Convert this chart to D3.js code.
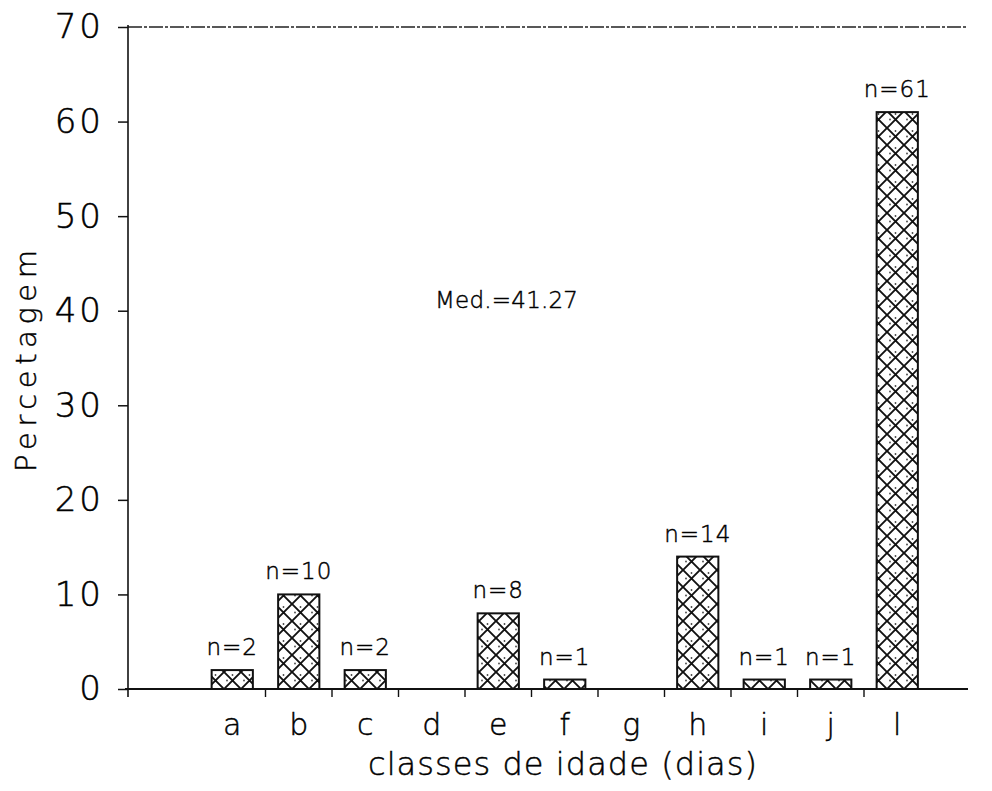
<!DOCTYPE html>
<html>
<head>
<meta charset="utf-8">
<script src="https://cdn.jsdelivr.net/npm/d3@7"></script>
<style>
  html, body { margin: 0; padding: 0; background: #fff; }
  svg { display: block; }
  text { font-family: "DejaVu Sans", "Noto Sans", sans-serif; font-weight: 200; fill: #000; stroke: #000; stroke-width: 0.45px; }
</style>
</head>
<body>
<svg id="chart" width="992" height="791"></svg>
<script>
// ---- data ----
const categories = ["a", "b", "c", "d", "e", "f", "g", "h", "i", "j", "l"];
const percentages = [2, 10, 2, 0, 8, 1, 0, 14, 1, 1, 61];
const counts = [2, 10, 2, null, 8, 1, null, 14, 1, 1, 61];
const yTicks = [0, 10, 20, 30, 40, 50, 60, 70];
const medianLabel = "Med.=41.27";
const xTitle = "classes de idade (dias)";
const yTitle = "Percetagem";

// ---- layout ----
const plotLeft = 128, plotRight = 968, plotTop = 27, plotBottom = 689;

const svg = d3.select("#chart");

const y = d3.scaleLinear().domain([0, 70]).range([plotBottom, plotTop]);
const x = d3.scaleBand().domain(categories).range([199, 930.5]).paddingInner(0).paddingOuter(0);
const barW = x.bandwidth() * 0.62;

// hatch pattern
const P = 17;
const defs = svg.append("defs");
const pat = defs.append("pattern")
  .attr("id", "hatch").attr("patternUnits", "userSpaceOnUse")
  .attr("x", 3).attr("y", plotBottom)
  .attr("width", P).attr("height", P);
pat.append("rect").attr("width", P).attr("height", P).attr("fill", "#fff");
pat.append("path").attr("d", `M0,0 L${P},${P} M${P},0 L0,${P} M-1,${P-1} L1,${P+1} M${P-1},-1 L${P+1},1`)
  .attr("stroke", "#111").attr("stroke-width", 1.9).attr("fill", "none");
pat.append("circle").attr("cx", P / 2).attr("cy", 3).attr("r", 0.9).attr("fill", "#444");
pat.append("circle").attr("cx", 3).attr("cy", P / 2).attr("r", 0.9).attr("fill", "#444");

// top frame line
svg.append("line").attr("x1", plotLeft).attr("x2", plotRight).attr("y1", plotTop).attr("y2", plotTop)
  .attr("stroke", "#222").attr("stroke-width", 1.3).attr("stroke-dasharray", "14,2,3,2");

// bars
const data = categories.map((c, i) => ({ c, v: percentages[i], n: counts[i] }));
svg.selectAll("rect.bar").data(data.filter(d => d.v > 0)).join("rect")
  .attr("class", "bar")
  .attr("x", d => x(d.c) + (x.bandwidth() - barW) / 2)
  .attr("y", d => y(d.v))
  .attr("width", barW)
  .attr("height", d => y(0) - y(d.v))
  .attr("fill", "url(#hatch)")
  .attr("stroke", "#111").attr("stroke-width", 2);

// n labels
svg.selectAll("text.nlab").data(data.filter(d => d.n !== null)).join("text")
  .attr("class", "nlab")
  .attr("x", d => x(d.c) + x.bandwidth() / 2)
  .attr("y", d => y(d.v) - 15)
  .attr("text-anchor", "middle")
  .attr("font-size", 23)
  .attr("letter-spacing", 1)
  .text(d => "n=" + d.n);

// y axis
const yAxis = d3.axisLeft(y).tickValues(yTicks).tickSize(10).tickPadding(14).tickFormat(d3.format("d"));
const gy = svg.append("g").attr("transform", `translate(${plotLeft},0)`).call(yAxis);
gy.select(".domain").remove();
gy.selectAll(".tick line").attr("stroke", "#111").attr("stroke-width", 1.5);
gy.selectAll(".tick text").attr("font-size", 34).attr("letter-spacing", 3)
  .style("font-family", "'DejaVu Sans', sans-serif").style("font-weight", 200)
  .attr("fill", "#000").style("stroke", "#000").style("stroke-width", "0.5px");
svg.append("line").attr("x1", plotLeft).attr("x2", plotLeft).attr("y1", plotTop - 2).attr("y2", plotBottom + 8)
  .attr("stroke", "#111").attr("stroke-width", 1.6);

// x axis
svg.append("line").attr("x1", plotLeft - 3).attr("x2", plotRight).attr("y1", plotBottom).attr("y2", plotBottom)
  .attr("stroke", "#111").attr("stroke-width", 2);
svg.selectAll("line.xtick").data(categories.slice(1)).join("line")
  .attr("class", "xtick")
  .attr("x1", d => x(d)).attr("x2", d => x(d))
  .attr("y1", plotBottom).attr("y2", plotBottom + 8)
  .attr("stroke", "#111").attr("stroke-width", 1.4);
svg.selectAll("text.xlab").data(categories).join("text")
  .attr("class", "xlab")
  .attr("x", d => x(d) + x.bandwidth() / 2)
  .attr("y", 735)
  .attr("text-anchor", "middle")
  .attr("font-size", 30)
  .text(d => d);

// titles
svg.append("text").attr("x", 368).attr("y", 775)
  .attr("font-size", 32).attr("textLength", 389).attr("lengthAdjust", "spacing")
  .text(xTitle);
svg.append("text").attr("transform", "translate(36,472) rotate(-90)")
  .attr("font-size", 29).attr("textLength", 222).attr("lengthAdjust", "spacing")
  .text(yTitle);

// median annotation
svg.append("text").attr("x", 435).attr("y", 308)
  .attr("font-size", 23).attr("textLength", 143).attr("lengthAdjust", "spacing")
  .text(medianLabel);
</script>
</body>
</html>
